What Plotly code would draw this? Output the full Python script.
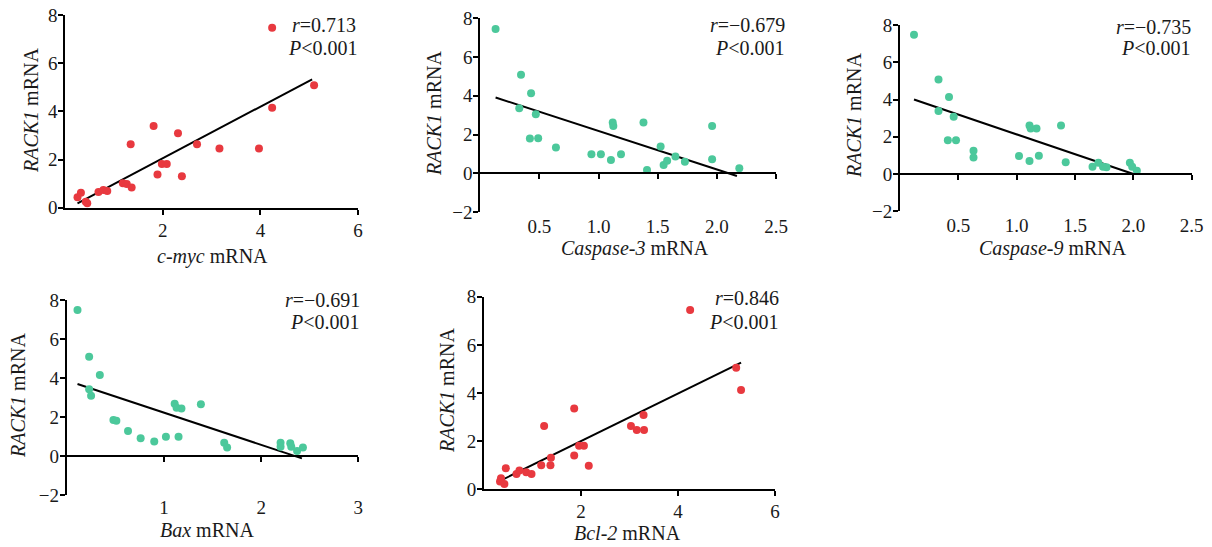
import plotly.graph_objects as go

# ---------------- data ----------------
myc_x = [0.25, 0.32, 0.42, 0.45, 0.68, 0.78, 0.86, 1.18, 1.26, 1.36, 1.34, 1.81, 1.89,
         1.98, 2.08, 2.31, 2.39, 2.70, 3.16, 3.97, 4.24, 5.10, 4.24]
myc_y = [0.43, 0.62, 0.25, 0.18, 0.65, 0.73, 0.69, 1.01, 0.98, 0.84, 2.63, 3.39, 1.38,
         1.81, 1.81, 3.09, 1.31, 2.63, 2.46, 2.46, 4.15, 5.08, 7.47]
myc_fit_x = [0.25, 5.06]
myc_fit_y = [0.18, 5.33]

casp3_x = [0.13, 0.345, 0.43, 0.33, 0.47, 0.42, 0.49, 0.64, 0.94, 1.02, 1.105, 1.19,
           1.12, 1.125, 1.38, 1.41, 1.525, 1.55, 1.58, 1.65, 1.73, 1.96, 1.96, 2.19]
casp3_y = [7.45, 5.08, 4.13, 3.36, 3.05, 1.79, 1.81, 1.33, 0.98, 0.98, 0.69, 0.98,
           2.62, 2.44, 2.62, 0.17, 1.38, 0.43, 0.65, 0.86, 0.60, 2.44, 0.72, 0.26]
casp3_fit_x = [0.13, 2.17]
casp3_fit_y = [3.91, -0.14]

casp9_x = [0.12, 0.33, 0.42, 0.33, 0.46, 0.41, 0.48, 0.63, 0.63, 1.02, 1.11, 1.11,
           1.12, 1.17, 1.19, 1.38, 1.42, 1.65, 1.70, 1.74, 1.77, 1.97, 1.99, 2.03]
casp9_y = [7.48, 5.08, 4.13, 3.38, 3.08, 1.81, 1.82, 1.25, 0.89, 0.97, 0.70, 2.61,
           2.44, 2.44, 0.98, 2.61, 0.63, 0.39, 0.60, 0.39, 0.36, 0.60, 0.39, 0.18]
casp9_fit_x = [0.12, 2.0]
casp9_fit_y = [4.0, 0.0]

bax_x = [0.11, 0.23, 0.34, 0.23, 0.25, 0.48, 0.51, 0.63, 0.76, 0.90, 1.02, 1.15,
         1.11, 1.13, 1.18, 1.38, 1.62, 1.65, 2.20, 2.20, 2.30, 2.31, 2.37, 2.43]
bax_y = [7.49, 5.09, 4.15, 3.42, 3.09, 1.85, 1.81, 1.28, 0.91, 0.74, 0.99, 0.99,
         2.68, 2.48, 2.44, 2.65, 0.68, 0.43, 0.68, 0.48, 0.65, 0.48, 0.26, 0.43]
bax_fit_x = [0.11, 2.42]
bax_fit_y = [3.69, -0.12]

bcl2_x = [0.33, 0.35, 0.42, 0.45, 0.67, 0.73, 0.87, 0.98, 1.18, 1.37, 1.38, 1.24,
          1.86, 1.86, 1.96, 2.06, 2.16, 3.03, 3.15, 3.30, 3.29, 4.25, 5.20, 5.30]
bcl2_y = [0.32, 0.46, 0.22, 0.87, 0.64, 0.78, 0.71, 0.64, 1.00, 1.00, 1.31, 2.63,
          3.36, 1.40, 1.81, 1.81, 0.98, 2.63, 2.46, 2.46, 3.09, 7.45, 5.05, 4.12]
bcl2_fit_x = [0.27, 5.30]
bcl2_fit_y = [0.29, 5.26]

x_ticks_wide = [2, 4, 6]
x_ticks_casp = [0.5, 1.0, 1.5, 2.0, 2.5]
x_ticktext_casp = ["0.5", "1.0", "1.5", "2.0", "2.5"]
x_ticks_bax = [1, 2, 3]
y_ticks_pos = [0, 2, 4, 6, 8]
y_ticks_full = [-2, 0, 2, 4, 6, 8]

x_titles = ["<i>c-myc</i> mRNA", "<i>Caspase-3</i> mRNA", "<i>Caspase-9</i> mRNA",
            "<i>Bax</i> mRNA", "<i>Bcl-2</i> mRNA"]
y_title = "<i>RACK1</i> mRNA"
r_labels = ["<i>r</i>=0.713", "<i>r</i>=\u22120.679", "<i>r</i>=\u22120.735",
            "<i>r</i>=\u22120.691", "<i>r</i>=0.846"]
p_label = "<i>P</i><0.001"

RED = "#e8393f"
GREEN = "#4cc89b"
FONT = "Liberation Serif"
TXT = "#1a1a1a"
W, H = 1212, 547

# ---------------- layout geometry (pixels) ----------------
boxes = [
    (65.3, 358.0, 15.0, 207.7),
    (480.2, 776.0, 18.3, 212.0),
    (900.0, 1191.7, 25.0, 211.3),
    (66.8, 358.3, 300.0, 495.0),
    (484.0, 775.0, 296.7, 489.3),
]
xranges = [[0, 6], [0, 2.5], [0, 2.5], [0, 3], [0, 6]]
yranges = [[0, 8], [-2, 8], [-2, 8], [-2, 8], [0, 8]]
xtickvals = [x_ticks_wide, x_ticks_casp, x_ticks_casp, x_ticks_bax, x_ticks_wide]
xticktext = [None, x_ticktext_casp, x_ticktext_casp, None, None]
ytickvals = [y_ticks_pos, y_ticks_full, y_ticks_full, y_ticks_full, y_ticks_pos]
xlabel_standoff = [-1, 1, 1, -1, -1]

panels = [
    (myc_x, myc_y, myc_fit_x, myc_fit_y, RED),
    (casp3_x, casp3_y, casp3_fit_x, casp3_fit_y, GREEN),
    (casp9_x, casp9_y, casp9_fit_x, casp9_fit_y, GREEN),
    (bax_x, bax_y, bax_fit_x, bax_fit_y, GREEN),
    (bcl2_x, bcl2_y, bcl2_fit_x, bcl2_fit_y, RED),
]

ytitle_pos = [(31, 111), (434, 114), (854, 116), (18, 396), (447, 391)]
xtitle_pos = [(212, 256), (635, 248), (1053, 249), (207, 530), (627, 533)]
rlabel_pos = [(358, 25), (787, 25), (1193, 27), (362, 300), (781, 298)]
plabel_pos = [(360, 48), (787, 48), (1193, 48), (362, 322), (781, 322)]


def px(x):
    return x / W


def py(y):
    return 1 - y / H


fig = go.Figure()
layout = dict(
    width=W, height=H,
    margin=dict(l=0, r=0, t=0, b=0, autoexpand=False),
    paper_bgcolor="white", plot_bgcolor="white",
    showlegend=False,
    font=dict(family=FONT, size=19, color=TXT),
)
annotations = []

axis_common = dict(
    showgrid=False, zeroline=False, automargin=False,
    linecolor="black", linewidth=2,
    ticks="outside", ticklen=5, tickwidth=2, tickcolor="black",
    tickfont=dict(family=FONT, size=19, color=TXT),
)

extra = 6
for i, (box, (xs, ys, fx, fy, col)) in enumerate(zip(boxes, panels)):
    k = i + 1
    xa = "x" if k == 1 else f"x{k}"
    ya = "y" if k == 1 else f"y{k}"
    l, r, t, b = box
    fig.add_trace(go.Scatter(
        x=fx, y=fy, mode="lines", line=dict(color="black", width=2),
        xaxis=xa, yaxis=ya, cliponaxis=False, hoverinfo="skip"))
    fig.add_trace(go.Scatter(
        x=xs, y=ys, mode="markers",
        marker=dict(color=col, size=8, line=dict(width=0)),
        xaxis=xa, yaxis=ya, cliponaxis=False))

    y0 = yranges[i][0]
    crosses_zero = y0 < 0
    xdict = dict(axis_common, domain=[px(l), px(r)], range=xranges[i],
                 tickvals=xtickvals[i], anchor=ya, showline=True,
                 ticklabelstandoff=xlabel_standoff[i])
    if xticktext[i] is not None:
        xdict["ticktext"] = xticktext[i]
    if crosses_zero:
        xdict.update(showline=False, ticks="")
    ydict = dict(axis_common, domain=[py(b), py(t)], range=yranges[i],
                 tickvals=ytickvals[i], anchor=xa, showline=True,
                 ticklabelstandoff=-3)
    layout["xaxis" if k == 1 else f"xaxis{k}"] = xdict
    layout["yaxis" if k == 1 else f"yaxis{k}"] = ydict

    if crosses_zero:
        ek = extra
        extra += 1
        yr = yranges[i]
        frac = (0 - yr[0]) / (yr[1] - yr[0])
        pos = py(b) + frac * (py(t) - py(b))
        layout[f"xaxis{ek}"] = dict(
            axis_common, overlaying=xa, anchor="free", position=pos,
            range=xranges[i], tickvals=xtickvals[i], showline=True,
            showticklabels=False, side="bottom")
        fig.add_trace(go.Scatter(x=[None], y=[None], xaxis=f"x{ek}", yaxis=ya,
                                 mode="markers", hoverinfo="skip"))

    tfont = dict(family=FONT, size=20, color=TXT)
    tx, ty = ytitle_pos[i]
    annotations.append(dict(text=y_title, x=px(tx), y=py(ty), xref="paper", yref="paper",
                            textangle=-90, showarrow=False, xanchor="center", yanchor="middle",
                            font=tfont))
    tx, ty = xtitle_pos[i]
    annotations.append(dict(text=x_titles[i], x=px(tx), y=py(ty), xref="paper", yref="paper",
                            showarrow=False, xanchor="center", yanchor="middle", font=tfont))
    tx, ty = rlabel_pos[i]
    annotations.append(dict(text=r_labels[i], x=px(tx), y=py(ty), xref="paper", yref="paper",
                            showarrow=False, xanchor="right", yanchor="middle", font=tfont))
    tx, ty = plabel_pos[i]
    annotations.append(dict(text=p_label, x=px(tx), y=py(ty), xref="paper", yref="paper",
                            showarrow=False, xanchor="right", yanchor="middle", font=tfont))

layout["annotations"] = annotations
fig.update_layout(**layout)
fig.write_html(
    "out.html",
    config={"displayModeBar": False},
    post_script="document.body.style.margin='0px';"
                "document.documentElement.style.overflow='hidden';"
                "document.body.style.overflow='hidden';",
)
